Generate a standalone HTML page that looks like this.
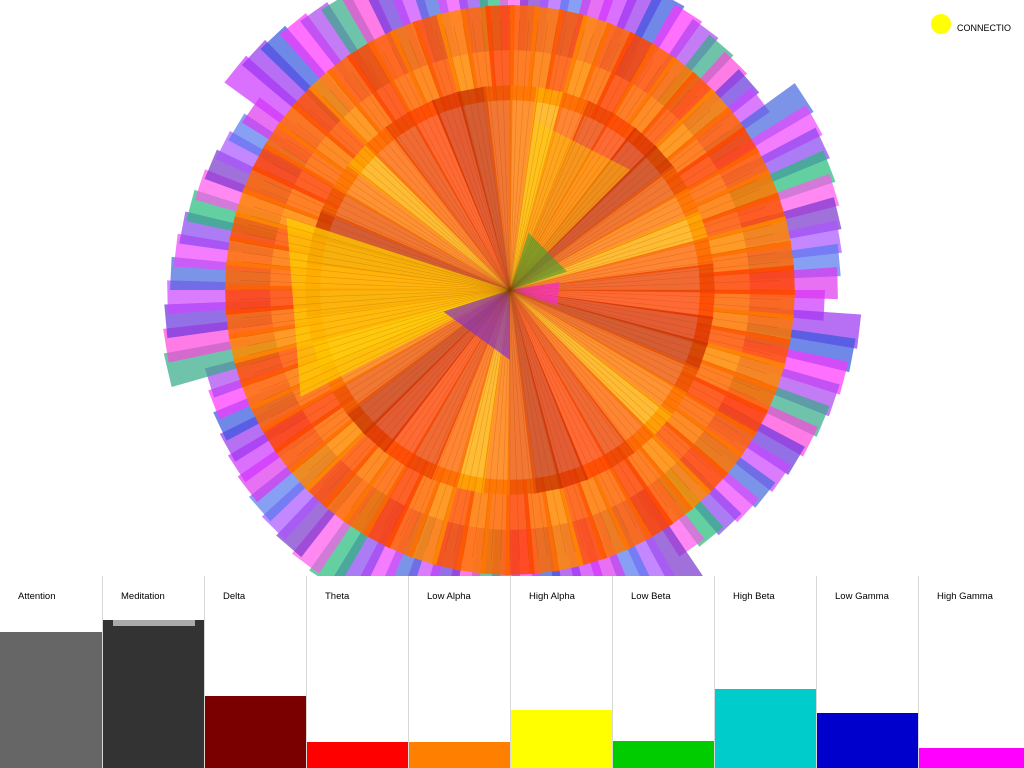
<!DOCTYPE html>
<html><head><meta charset="utf-8"><style>
html,body{margin:0;padding:0;width:1024px;height:768px;overflow:hidden;background:#fff;font-family:"Liberation Sans",sans-serif}
#art{position:absolute;left:0;top:0}
.panel{position:absolute;top:576px;height:192px;width:102px;border-left:1px solid #d8d8d8;box-sizing:border-box}
.panel .lbl{position:absolute;left:18px;top:15px;font-size:9.5px;color:#000}
.panel .bar{position:absolute;left:0;right:0;bottom:0}
#legend{position:absolute;left:931px;top:14px}
</style></head><body>
<svg id="art" width="1024" height="576"></svg>
<div id="legend">
<div style="position:absolute;left:0;top:0;width:20px;height:20px;border-radius:50%;background:#ffff00"></div>
<div style="position:absolute;left:26px;top:9px;font-size:9px;color:#000;white-space:nowrap">CONNECTIO</div>
</div>
<div id="panels"></div>
<script>
const labels=["Attention","Meditation","Delta","Theta","Low Alpha","High Alpha","Low Beta","High Beta","Low Gamma","High Gamma"];
const values=[136,148,72,26,26,58,27,79,55,20];
const barColors=["#666666","#333333","#7a0000","#ff0000","#ff8000","#ffff00","#00cc00","#00cccc","#0000cc","#ff00ff"];
const ringColors=["#cc33ff","#9933ee","#3355dd","#ff33ff","#aa44ee","#33aa88","#ff44dd","#6633dd","#cc44ff","#4466dd","#ee44ff","#8844ee","#22bb77","#ff55ee","#7733cc","#aa55ff","#5577ee","#dd33ee"];
const midColors=["#ff6600","#ff7700","#ff5500","#ff8800","#ff6a00","#ff4400"];
const innerColors=["#ff4400","#ee5500","#ff6600","#dd3300","#ff7700","#ee4400","#cc3300","#ffaa00"];
const P=document.getElementById('panels');
labels.forEach((l,i)=>{
 const d=document.createElement('div');d.className='panel';
 
 
 d.style.left=(i*102)+'px';if(i==9)d.style.width='106px';if(i==0)d.style.borderLeft='none';
 const b=document.createElement('div');b.className='bar';
 
 
 b.style.height=values[i]+'px';b.style.background=barColors[i];d.appendChild(b);
 if(i==1){const s=document.createElement('div');
 
 
 s.style.cssText='position:absolute;left:10px;width:82px;height:6px;background:#aaa;bottom:'+(values[i]-6)+'px';d.appendChild(s);}
 const t=document.createElement('div');t.className='lbl';t.textContent=l;
 
 
 d.appendChild(t);P.appendChild(d);
});
const S=document.getElementById('art'),NS='http://www.w3.org/2000/svg',cx=510,cy=290;
function wedge(r0,r1,a0,a1,col,op,name){
 const p=document.createElementNS(NS,'path');
 const c=Math.cos,s=Math.sin;
 p.setAttribute('d',`M${cx+r0*c(a0)},${cy+r0*s(a0)}L${cx+r1*c(a0)},${cy+r1*s(a0)}L${cx+r1*c(a1)},${cy+r1*s(a1)}L${cx+r0*c(a1)},${cy+r0*s(a1)}Z`);
 p.setAttribute('fill',col);p.setAttribute('fill-opacity',op);
 
 
 S.appendChild(p);
}
const n1=ringColors.length*5;
for(let i=0;i<n1;i++){const a=i/n1*2*Math.PI;const r=315+((i*37)%40);wedge(240,r,a,a+2*Math.PI/n1*1.4,ringColors[i%ringColors.length],0.7,'outer-wedge');}
for(let i=0;i<72;i++){const a=i/72*2*Math.PI;wedge(190,285,a,a+2*Math.PI/72*1.2,midColors[i%midColors.length],0.85,'mid-wedge');}
for(let i=0;i<48;i++){const a=i/48*2*Math.PI;wedge(0,205,a,a+2*Math.PI/48*1.1,innerColors[(i*3)%innerColors.length],0.8,'inner-wedge');}
wedge(0,200,0,2*Math.PI,'#b02000',0.15,'inner-shade');
wedge(0,235,Math.PI*0.85,Math.PI*1.1,'#ffcc00',0.75,'yellow-sector');
wedge(0,170,Math.PI*1.55,Math.PI*1.75,'#ffcc00',0.45,'yellow-top-sector');
wedge(0,60,Math.PI*1.6,Math.PI*1.9,'#33aa33',0.6,'green-center');
wedge(0,70,Math.PI*0.5,Math.PI*0.9,'#8833cc',0.7,'purple-center');
wedge(0,50,Math.PI*1.95,Math.PI*2.1,'#ff33cc',0.8,'magenta-center');
for(let i=0;i<180;i++){const a=i/180*2*Math.PI;const l=document.createElementNS(NS,'line');
l.setAttribute('x1',cx);l.setAttribute('y1',cy);l.setAttribute('x2',cx+270*Math.cos(a));l.setAttribute('y2',cy+270*Math.sin(a));
l.setAttribute('stroke','#884400');l.setAttribute('stroke-opacity','0.25');l.setAttribute('stroke-width','0.6');


S.appendChild(l);}
</script>
</body></html>
